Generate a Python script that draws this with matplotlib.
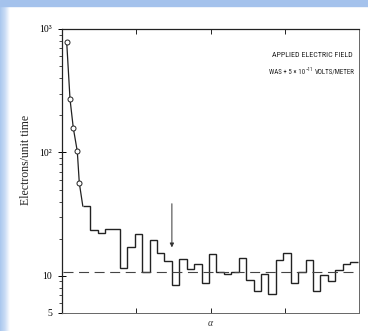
"""Electrons per unit time vs alpha (scanned plot, log y axis)."""
import numpy as np
import matplotlib
matplotlib.use("Agg")
import matplotlib.pyplot as plt
from matplotlib import font_manager
from matplotlib.font_manager import FontProperties
from matplotlib.transforms import Bbox

# ── data ─────────────────────────────────────────────────────────────────────
circle_x = [0.063, 0.108, 0.152, 0.206, 0.233]
circle_y = [788, 270, 158, 102, 56.6]

step_start = 0.28     # left edge of first histogram bin
step_width = 0.1      # bin width
step_y = [36.8, 23.6, 22.3, 23.9, 23.9, 11.5, 17.0, 21.9, 10.7, 19.7,
          15.2, 13.1, 8.5, 13.8, 11.3, 12.5, 8.7, 15.1, 10.8, 10.3,
          10.8, 14.0, 9.3, 7.5, 10.4, 7.1, 13.4, 15.2, 8.7, 10.8,
          13.4, 7.6, 10.1, 9.0, 11.1, 12.4, 12.9]

background_level = 10.7
arrow_x = 1.48
arrow_from, arrow_to = 38.4, 17.0

y_ticks = [5, 10, 100, 1000]
y_ticklabels = ["5", "10", "10\u00b2", "10\u00b3"]
x_ticks = [1, 2, 3]

note_line1 = "APPLIED ELECTRIC FIELD"
note_line2 = ["WAS + 5 \u00d7 10", "\u221211", "VOLTS/METER"]


def _narrow_sans():
    """Pick a condensed sans face if one is installed."""
    entries = font_manager.fontManager.ttflist
    for want in ["Liberation Sans Narrow", "Roboto Condensed", "Open Sans Condensed"]:
        for f in entries:
            if f.name == want and f.style == "normal" and f.weight in (400, "normal", "regular"):
                return FontProperties(fname=f.fname)
    for f in entries:
        if ("Narrow" in f.name or "Condensed" in f.name or
                str(f.stretch) in ("condensed", "semi-condensed")) and f.style == "normal":
            if "Mono" not in f.name and "Serif" not in f.name and "Bold" not in f.fname:
                return FontProperties(fname=f.fname)
    return FontProperties(family="Liberation Sans")


def _fit_width(fig, texts, target_px):
    """Scale the font size of a group of texts so the group spans target_px."""
    for _ in range(3):
        fig.canvas.draw()
        r = fig.canvas.get_renderer()
        box = Bbox.union([t.get_window_extent(r) for t in texts])
        k = target_px / box.width
        for t in texts:
            t.set_fontsize(t.get_fontsize() * k)


serif = "Liberation Serif"
note_font = _narrow_sans()
note_font.set_size(5.8)
sup_font = note_font.copy()
sup_font.set_size(4.2)

fig = plt.figure(figsize=(3.68, 3.31), dpi=100)
fig.patch.set_facecolor("white")

# blue scan border (top strip + left gradient strip)
fig.patches.append(plt.Rectangle((0, 1 - 6 / 331), 1, 6 / 331, transform=fig.transFigure,
                                 color="#a4c2ec", zorder=0))
strip = fig.add_axes([0, 0, 10 / 368, 1 - 6 / 331])
grad = np.linspace(0, 1, 64)[None, :]
strip.imshow(grad, aspect="auto", cmap=matplotlib.colors.LinearSegmentedColormap.from_list(
    "edge", ["#a9c7ee", "#c9dcf5", "#ffffff"]), extent=[0, 1, 0, 1])
strip.axis("off")

ax = fig.add_axes([62 / 368, 18 / 331, 297 / 368, 284 / 331])
ax.set_yscale("log")
ax.set_xlim(0, 4)
ax.set_ylim(5, 1000)

# decay curve with open circles, joined to the first histogram bin
curve_x = circle_x + [step_start]
curve_y = circle_y + [step_y[0]]
ax.plot(curve_x, curve_y, color="#222222", lw=0.9)
ax.plot(circle_x, circle_y, "o", ms=3.6, mfc="white", mec="#222222", mew=0.7)

# histogram as step line
edges = step_start + step_width * np.arange(len(step_y) + 1)
ax.stairs(step_y, edges, color="#222222", lw=1.0, baseline=None)

# background level
ax.axhline(background_level, xmin=0.004, xmax=0.995, color="#444444", lw=0.8,
           dashes=(9, 5))

# arrow
ax.annotate("", xy=(arrow_x, arrow_to), xytext=(arrow_x, arrow_from),
            arrowprops=dict(arrowstyle="-|>", color="#333333", lw=0.7,
                            mutation_scale=6, shrinkA=0, shrinkB=0))

# annotation text (second line assembled so the exponent sits tight)
t_1 = ax.text(0.842, 0.908, note_line1, transform=ax.transAxes, ha="center",
              va="center", fontproperties=note_font, color="#222222")
t_a = ax.text(0.697, 0.848, note_line2[0], transform=ax.transAxes, ha="left",
              va="center", fontproperties=note_font, color="#222222")
t_b = ax.annotate(note_line2[1], xy=(1.0, 0.55), xycoords=t_a, ha="left",
                  va="bottom", fontproperties=sup_font, color="#222222")
t_c = ax.annotate(note_line2[2], xy=(1.0, 0.5), xycoords=(t_b, t_a),
                  xytext=(1.8, 0), textcoords="offset points", ha="left",
                  va="center", fontproperties=note_font, color="#222222")

# axes styling
ax.set_yticks(y_ticks)
ax.set_yticklabels(y_ticklabels, fontsize=7, family=serif)
ax.tick_params(axis="y", which="major", direction="inout", length=6, width=0.7,
               pad=4)
ax.tick_params(axis="y", which="minor", direction="out", length=2.5, width=0.5)
ax.yaxis.set_minor_formatter(matplotlib.ticker.NullFormatter())
ax.set_xticks(x_ticks)
ax.set_xticklabels([])
ax.tick_params(axis="x", direction="in", length=3.5, width=0.6, top=True)

for side in ["left", "top"]:
    ax.spines[side].set_linewidth(0.9)
    ax.spines[side].set_color("#222222")
for side in ["right", "bottom"]:
    ax.spines[side].set_linewidth(0.7)
    ax.spines[side].set_color("#666666")

ax.set_ylabel("Electrons/unit time", fontsize=8.5, family=serif, color="#222222")
ax.yaxis.set_label_coords(-0.10, 0.54)
ax.set_xlabel("\u03b1", fontsize=7, family=serif, style="italic", color="#333333",
              labelpad=1)

# match the printed widths of the two note lines
_fit_width(fig, [t_1], 80)
_fit_width(fig, [t_a, t_b, t_c], 85)

fig.savefig("out.png", dpi=100)
